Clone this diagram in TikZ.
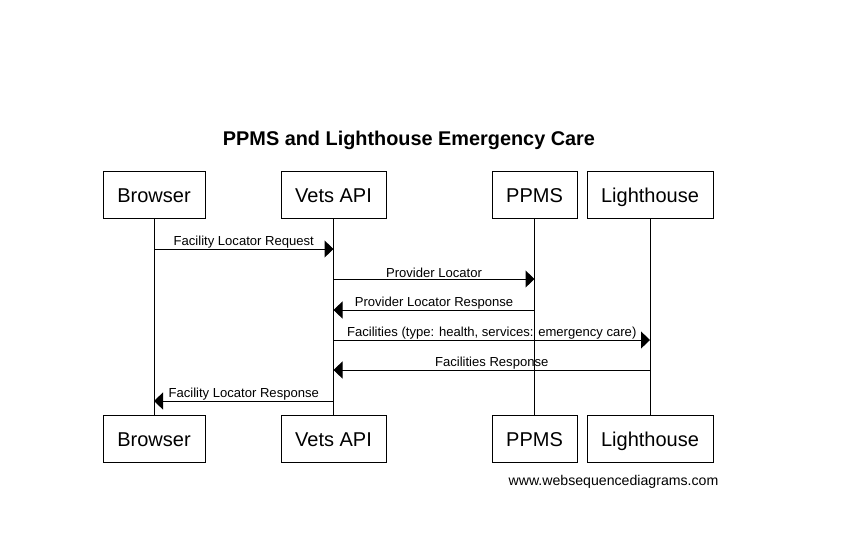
\documentclass[tikz,border=0pt]{standalone}
\usepackage{fontspec}
\setmainfont{Liberation Sans}
\usetikzlibrary{arrows.meta}
\begin{document}
\begin{tikzpicture}[x=0.75pt,y=-0.75pt,
  actor/.style={draw,line width=0.75pt,minimum height=35.25pt,inner sep=0pt,text height=12.75pt,text depth=1.25pt,font=\fontsize{15}{18}\selectfont},
  life/.style={line width=0.75pt},
  msg/.style={line width=0.75pt,-{Triangle[length=6.75pt,width=12.75pt]}},
  lbl/.style={font=\fontsize{9.8}{11}\selectfont,above,inner sep=0.3pt}]
\useasboundingbox (0,0) rectangle (846,544);
\node[font=\bfseries\fontsize{14.9}{17}\selectfont] (title) at (409,140.5) {PPMS and Lighthouse Emergency Care};
% top actors
\node[actor,minimum width=76.5pt] (bt) at (154,194.5) {Browser};
\node[actor,minimum width=78.75pt] (vt) at (333.5,194.5) {Vets API};
\node[actor,minimum width=63.75pt] (pt) at (534.5,194.5) {PPMS};
\node[actor,minimum width=94.5pt] (lt) at (650,194.5) {Lighthouse};
% bottom actors
\node[actor,minimum width=76.5pt] (bb) at (154,438.5) {Browser};
\node[actor,minimum width=78.75pt] (vb) at (333.5,438.5) {Vets API};
\node[actor,minimum width=63.75pt] (pb) at (534.5,438.5) {PPMS};
\node[actor,minimum width=94.5pt] (lb) at (650,438.5) {Lighthouse};
% lifelines
\draw[life] (bt.south) -- (bb.north);
\draw[life] (vt.south) -- (vb.north);
\draw[life] (pt.south) -- (pb.north);
\draw[life] (lt.south) -- (lb.north);
% message coordinates
\coordinate (b1) at (154,249); \coordinate (v1) at (333.5,249);
\coordinate (v2) at (333.5,279); \coordinate (p2) at (534.5,279);
\coordinate (p3) at (534.5,310); \coordinate (v3) at (333.5,310);
\coordinate (v4) at (333.5,340); \coordinate (l4) at (650,340);
\coordinate (l5) at (650,370); \coordinate (v5) at (333.5,370);
\coordinate (v6) at (333.5,401); \coordinate (b6) at (154,401);
\draw[msg] (b1) -- node[lbl] (m1) {Facility Locator Request} (v1);
\draw[msg] (v2) -- node[lbl] (m2) {Provider Locator} (p2);
\draw[msg] (p3) -- node[lbl] (m3) {Provider Locator Response} (v3);
\draw[msg] (v4) -- node[lbl] (m4) {Facilities (type: health, services: emergency care)} (l4);
\draw[msg] (l5) -- node[lbl] (m5) {Facilities Response} (v5);
\draw[msg] (v6) -- node[lbl] (m6) {Facility Locator Response} (b6);
\node[font=\fontsize{10.6}{12}\selectfont] (foot) at (613.5,482) {www.websequencediagrams.com};
\end{tikzpicture}
\end{document}
